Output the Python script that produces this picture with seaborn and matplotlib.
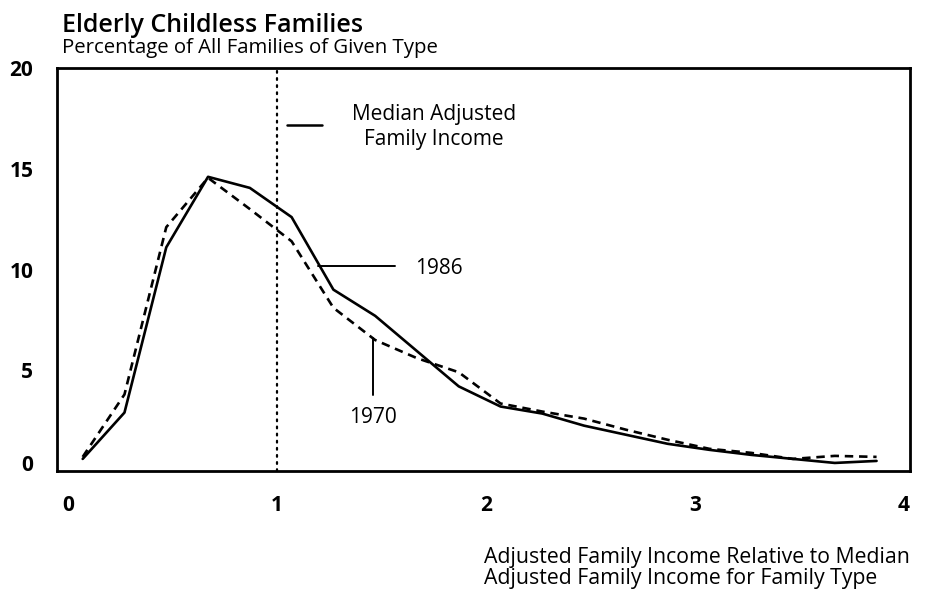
import matplotlib
matplotlib.use("Agg")
import matplotlib.pyplot as plt
import matplotlib.transforms as mtransforms
import seaborn as sns
import pandas as pd
from matplotlib.ticker import FixedLocator

# Income relative to median (bin positions) and share of families, by year
income_ratio = [0.07, 0.27, 0.47, 0.67, 0.87, 1.07, 1.27, 1.47, 1.67, 1.87,
                2.07, 2.27, 2.47, 2.67, 2.87, 3.07, 3.27, 3.47, 3.67, 3.87]
share_1986 = [0.6, 2.9, 11.1, 14.6, 14.05, 12.6, 9.0, 7.7, 5.95, 4.2,
              3.2, 2.85, 2.25, 1.8, 1.35, 1.05, 0.8, 0.6, 0.4, 0.5]
share_1970 = [0.7, 3.8, 12.1, 14.55, 13.0, 11.4, 8.1, 6.5, 5.6, 4.9,
              3.35, 2.95, 2.6, 2.05, 1.55, 1.1, 0.9, 0.6, 0.75, 0.7]

x_ticks = [0, 1, 2, 3, 4]
y_ticks = [0, 5, 10, 15, 20]

title = "Elderly Childless Families"
subtitle = "Percentage of All Families of Given Type"
x_title_lines = ["Adjusted Family Income Relative to Median",
                 "Adjusted Family Income for Family Type"]

sns.set_theme(style="white")
plt.rcParams["font.family"] = ["Open Sans", "DejaVu Sans"]
plt.rcParams["text.color"] = "black"
plt.rcParams["xtick.color"] = "black"
plt.rcParams["ytick.color"] = "black"

df = pd.DataFrame({
    "ratio": income_ratio * 2,
    "share": share_1986 + share_1970,
    "year": ["1986"] * len(income_ratio) + ["1970"] * len(income_ratio),
})

W, H = 929, 596
fig = plt.figure(figsize=(W / 100, H / 100), dpi=100)
ax = fig.add_axes([57 / W, 1 - 471 / H, (910 - 57) / W, (471 - 68) / H])

sns.lineplot(data=df, x="ratio", y="share", style="year",
             dashes={"1986": "", "1970": (3.2, 2.2)},
             color="black", linewidth=1.9, legend=False, ax=ax,
             sort=False)

ax.set_xlim(-0.053, 4.03)
ax.set_ylim(0, 20)

# median marker
ax.plot([1, 1], [0, 20], color="black", linewidth=1.6,
        linestyle=(0, (0.8, 2.4)), dash_capstyle="round")

# frame
for s in ax.spines.values():
    s.set_visible(True)
    s.set_color("black")
    s.set_linewidth(2.0)

# labelled major ticks without marks, short inward marks as minor ticks
ax.set_xticks(x_ticks)
ax.set_xticklabels([str(v) for v in x_ticks])
ax.set_yticks(y_ticks)
ax.set_yticklabels([str(v) for v in y_ticks])
ax.tick_params(axis="both", which="major", length=0, labelsize=15,
               labelcolor="black")
ax.tick_params(axis="x", which="major", pad=17)
ax.tick_params(axis="y", which="major", pad=17)
for lab in ax.get_xticklabels() + ax.get_yticklabels():
    lab.set_fontweight("bold")
# lift the zero label clear of the baseline
zero_lab = ax.get_yticklabels()[0]
zero_lab.set_transform(zero_lab.get_transform() +
                       mtransforms.ScaledTranslation(0, 8 / 100, fig.dpi_scale_trans))

ax.xaxis.set_minor_locator(FixedLocator([1, 2, 3]))
ax.yaxis.set_minor_locator(FixedLocator([5, 10, 15]))
ax.tick_params(axis="x", which="minor", direction="in", length=14,
               width=1.3, color="black", bottom=True)
ax.tick_params(axis="y", which="minor", direction="in", length=14,
               width=2.2, color="black", left=True, right=True)
ax.set_xlabel("")
ax.set_ylabel("")

# series labels
ax.plot([1.196, 1.565], [10.17, 10.17], color="black", linewidth=1.4)
ax.text(1.66, 10.05, "1986", ha="left", va="center", fontsize=15)
ax.plot([1.459, 1.459], [3.77, 6.6], color="black", linewidth=1.4)
ax.text(1.46, 2.65, "1970", ha="center", va="center", fontsize=15)

ax.plot([1.048, 1.215], [17.17, 17.17], color="black", linewidth=1.8)
ax.text(1.751, 17.7, "Median Adjusted", ha="center", va="center", fontsize=15)
ax.text(1.751, 16.45, "Family Income", ha="center", va="center", fontsize=15)

fig.text(62 / W, 1 - 32 / H, title, ha="left", va="baseline",
         fontsize=18, fontweight="semibold")
fig.text(62 / W, 1 - 53 / H, subtitle, ha="left", va="baseline",
         fontsize=14.7)
fig.text(484 / W, 1 - 563 / H, x_title_lines[0], ha="left", va="baseline",
         fontsize=15.3)
fig.text(484 / W, 1 - 584 / H, x_title_lines[1], ha="left", va="baseline",
         fontsize=15.3)

fig.savefig("out.png", dpi=100, facecolor="white")
